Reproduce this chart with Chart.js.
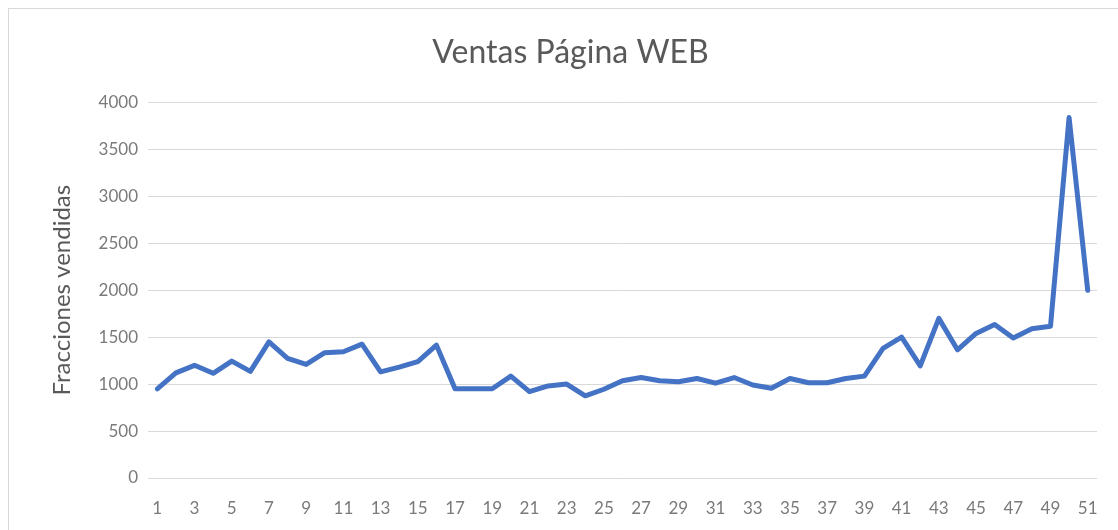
<!DOCTYPE html>
<html>
<head>
<meta charset="utf-8">
<script src="https://cdn.jsdelivr.net/npm/chart.js@4.4.1/dist/chart.umd.min.js"></script>
<style>
  html, body { margin:0; padding:0; background:#fff; }
  #wrap { position:relative; width:1118px; height:530px; }
  #frame { position:absolute; left:8px; top:8px; width:1120px; height:540px; border:1px solid #d9d9d9; box-sizing:border-box; }
  canvas { position:absolute; left:0; top:0; }
</style>
</head>
<body>
<div id="wrap">
  <div id="frame"></div>
  <canvas id="chart" width="1118" height="530"></canvas>
</div>
<script>
const chartTitle = 'Ventas Página WEB';
const yAxisTitle = 'Fracciones vendidas';

const weeks = [];
for (let i = 1; i <= 51; i++) weeks.push(String(i));

const sales = [
  950, 1120, 1200, 1115, 1245, 1135, 1450, 1275, 1210, 1335,
  1345, 1425, 1130, 1180, 1240, 1415, 950, 950, 950, 1085,
  920, 980, 1000, 875, 945, 1035, 1070, 1035, 1025, 1060,
  1010, 1070, 990, 955, 1060, 1015, 1015, 1060, 1085, 1380,
  1500, 1195, 1700, 1365, 1540, 1635, 1490, 1590, 1615, 3840,
  2000
];

const yTicks = [0, 500, 1000, 1500, 2000, 2500, 3000, 3500, 4000];

const grey = '#595959';
const gridGrey = '#d9d9d9';

new Chart(document.getElementById('chart'), {
  type:'line',
  data:{
    labels:weeks,
    datasets:[{
      label:'Ventas',
      data:sales,
      borderColor:'#4472C4',
      borderWidth:5,
      pointRadius:0,
      tension:0,
      borderJoinStyle:'round',
      borderCapStyle:'round'
    }]
  },
  options:{
    responsive:false,
    animation:false,
    layout:{padding:{left:44, right:21, top:18, bottom:0}},
    plugins:{
      legend:{display:false},
      tooltip:{enabled:false},
      title:{
        display:true,
        text:chartTitle,
        color:grey,
        font:{family:'Lato', size:32, weight:'normal'},
        padding:{top:15, bottom:31}
      }
    },
    scales:{
      x:{
        offset:true,
        grid:{display:false, drawTicks:false},
        border:{display:false},
        ticks:{
          color:'#7a7a7a',
          font:{family:'Lato', size:17},
          padding:20,
          autoSkip:false,
          maxRotation:0,
          callback:(v, i) => (i % 2 === 0 ? weeks[i] : '')
        },
        afterFit:s => { s.height = 52; }
      },
      y:{
        min:0,
        max:4000,
        afterBuildTicks:s => { s.ticks = yTicks.map(v => ({value:v})); },
        grid:{color:gridGrey, lineWidth:1, drawTicks:false},
        border:{display:false},
        ticks:{
          color:'#7a7a7a',
          font:{family:'Lato', size:17},
          padding:10,
          callback:v => String(v)
        },
        title:{
          display:true,
          text:yAxisTitle,
          color:grey,
          font:{family:'Lato', size:24},
          padding:{top:4, bottom:4}
        },
        afterFit:s => { s.width = 104; }
      }
    }
  }
});
</script>
</body>
</html>
